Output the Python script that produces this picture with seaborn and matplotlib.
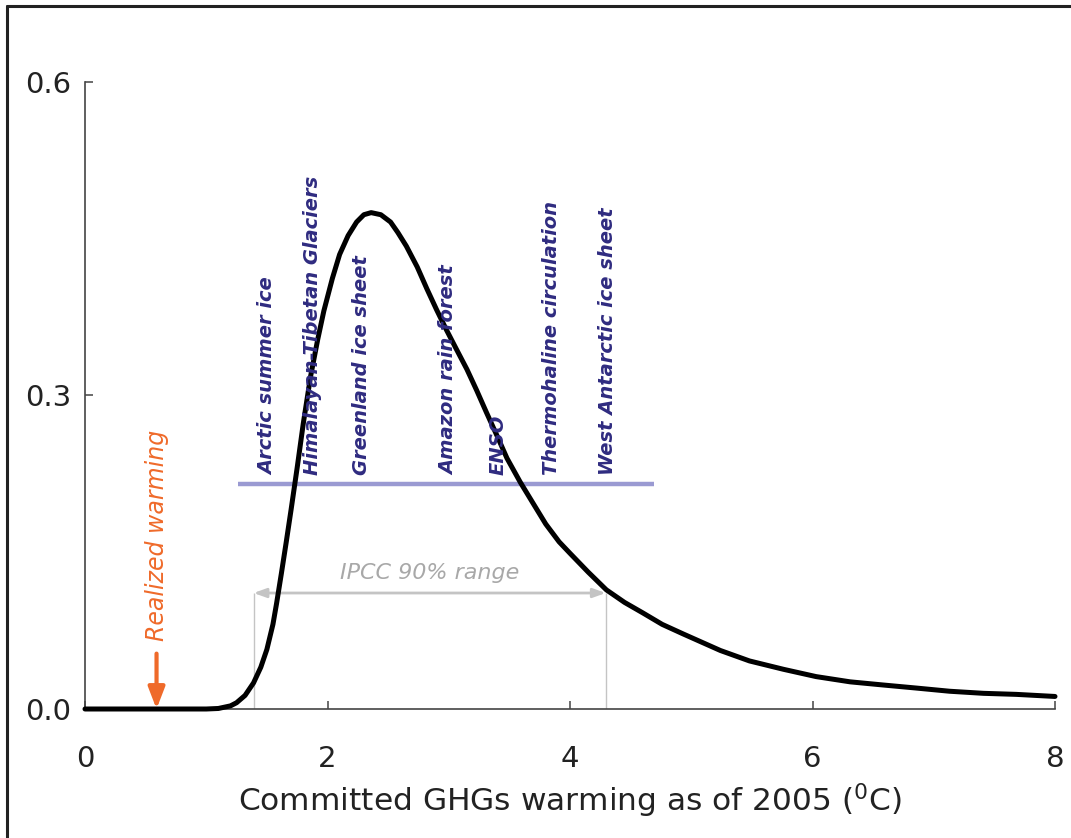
import numpy as np
import pandas as pd
import matplotlib

matplotlib.use("Agg")
import matplotlib.pyplot as plt
from matplotlib.lines import Line2D
import seaborn as sns

# committed warming pdf
warming = [0.0, 0.5, 1.0, 1.1, 1.2, 1.25, 1.32, 1.39, 1.45, 1.50, 1.55, 1.58,
           1.62, 1.66, 1.70, 1.75, 1.80, 1.86, 1.92, 1.97, 2.04, 2.10, 2.17,
           2.24, 2.30, 2.36, 2.44, 2.52, 2.58, 2.65, 2.74, 2.82, 2.90, 2.98,
           3.06, 3.15, 3.23, 3.31, 3.40, 3.48, 3.59, 3.70, 3.80, 3.91, 4.0,
           4.15, 4.3, 4.45, 4.6, 4.76, 4.93, 5.24, 5.48, 5.76, 6.03, 6.31,
           6.58, 6.86, 7.13, 7.41, 7.68, 8.0]
density = [0.0, 0.0, 0.0, 0.0005, 0.003, 0.006, 0.013, 0.025, 0.040, 0.057,
           0.081, 0.101, 0.130, 0.160, 0.191, 0.231, 0.273, 0.318, 0.354,
           0.381, 0.412, 0.435, 0.453, 0.466, 0.473, 0.475, 0.473, 0.466,
           0.456, 0.443, 0.423, 0.402, 0.382, 0.363, 0.345, 0.325, 0.305,
           0.284, 0.261, 0.240, 0.217, 0.196, 0.177, 0.160, 0.149, 0.131,
           0.114, 0.102, 0.092, 0.081, 0.072, 0.056, 0.046, 0.038, 0.031,
           0.026, 0.023, 0.020, 0.017, 0.015, 0.014, 0.012]

tipping_names = ["Arctic summer ice", "Himalayan-Tibetan Glaciers",
                 "Greenland ice sheet", "Amazon rain forest", "ENSO",
                 "Thermohaline circulation", "West Antarctic ice sheet"]
tipping_x = [1.51, 1.88, 2.28, 3.0, 3.41, 3.85, 4.31]
tipping_span = [1.265, 4.69]
tipping_level = 0.215

ipcc_range = [1.39, 4.295]
ipcc_level = 0.111
realized_x = 0.59
realized_top = 0.053

xticks = [0, 2, 4, 6, 8]
yticks = [0.0, 0.3, 0.6]

df = pd.DataFrame({"warming": warming, "density": density})

sns.set_style("ticks")
plt.rcParams["font.family"] = ["DejaVu Sans"]

fig = plt.figure(figsize=(10.71, 8.38), dpi=100)
ax = fig.add_axes([85 / 1071, 129 / 838, 970 / 1071, 627 / 838])

navy = "#2f2b80"
orange = "#ef6a2a"
grey = "#c4c4c4"

# tipping element bar
ax.plot(tipping_span, [tipping_level, tipping_level], color="#9a9ad2", lw=3.2,
        solid_capstyle="butt", zorder=2)

# IPCC range
ax.vlines(ipcc_range, 0, ipcc_level, color=grey, lw=1.0, zorder=1)
ax.annotate("", xy=(ipcc_range[0], ipcc_level), xytext=(ipcc_range[1], ipcc_level),
            arrowprops=dict(arrowstyle="<|-|>,head_length=0.5,head_width=0.18",
                            color=grey, lw=2, mutation_scale=15,
                            shrinkA=0, shrinkB=0), zorder=1)
ax.text(np.mean(ipcc_range), ipcc_level + 0.01, "IPCC 90% range",
        color="#a8a8a8", fontsize=16, style="italic", ha="center", va="bottom")

sns.lineplot(data=df, x="warming", y="density", color="black", lw=3.6,
             ax=ax, sort=False, clip_on=False, zorder=3)

for name, xv in zip(tipping_names, tipping_x):
    ax.text(xv, tipping_level + 0.009, name, rotation=90, ha="center", va="bottom",
            color=navy, fontsize=14, style="italic", fontweight="bold", zorder=4)

# realized warming arrow
ax.annotate("", xy=(realized_x, 0), xytext=(realized_x, realized_top),
            arrowprops=dict(arrowstyle="-|>,head_length=0.65,head_width=0.25",
                            color=orange, lw=3, mutation_scale=20,
                            shrinkA=0, shrinkB=0), zorder=5)
ax.text(realized_x, 0.1665, "Realized warming", rotation=90, ha="center",
        va="center", color=orange, fontsize=17, style="italic")

ax.set_xlim(0, 8)
ax.set_ylim(0, 0.6)
ax.set_xticks(xticks)
ax.set_yticks(yticks)
ax.set_xticklabels([str(t) for t in xticks])
ax.set_yticklabels([f"{t:.1f}" for t in yticks])
ax.tick_params(axis="both", direction="in", length=6, width=1.1, colors="#444444",
               labelcolor="#222222", labelsize=21)
ax.tick_params(axis="x", pad=26)
ax.tick_params(axis="y", pad=10)
ax.set_xlabel("Committed GHGs warming as of 2005 ($^{\\mathregular{0}}$C)",
              fontsize=22.5, color="#222222", labelpad=6)
ax.set_ylabel("")
sns.despine(ax=ax)
for side in ["left", "bottom"]:
    ax.spines[side].set_color("#444444")
    ax.spines[side].set_linewidth(1.2)

# outer frame (only top and left edges visible)
fig.add_artist(Line2D([7 / 1071, 7 / 1071], [0, 1 - 6 / 838], color="#222222",
                      lw=2.2, transform=fig.transFigure))
fig.add_artist(Line2D([7 / 1071, 1], [1 - 6 / 838, 1 - 6 / 838], color="#222222",
                      lw=2.2, transform=fig.transFigure))

fig.savefig("out.png", dpi=100)
